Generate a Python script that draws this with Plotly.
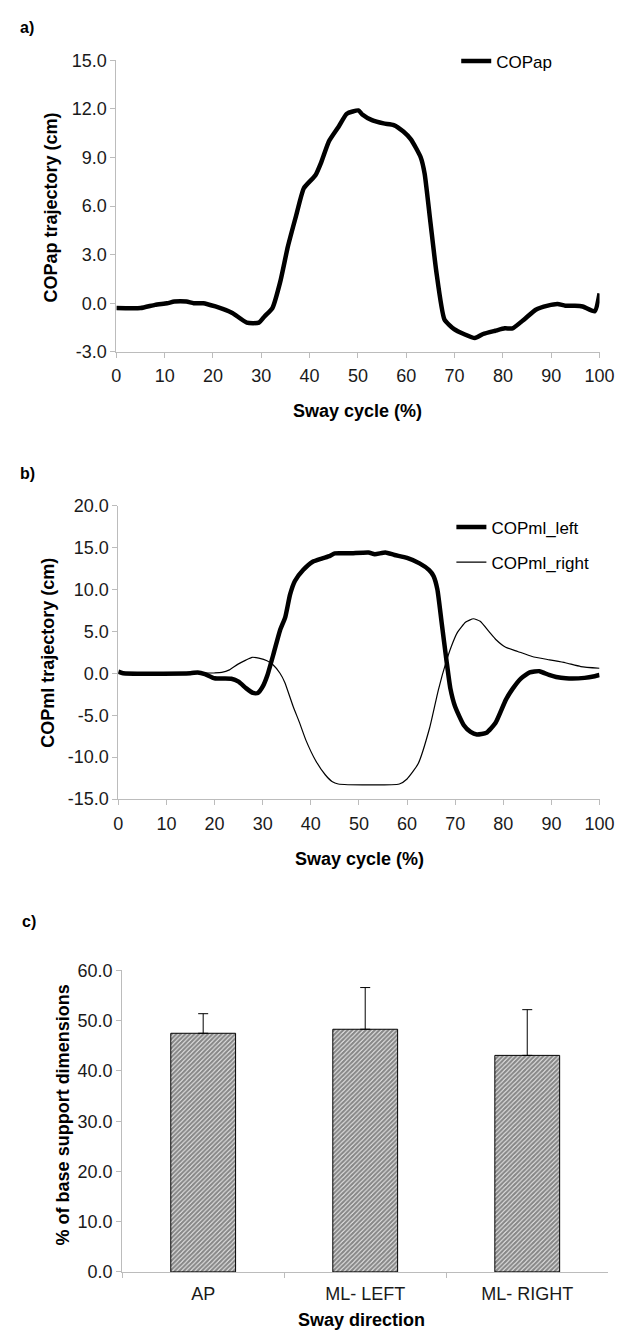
import plotly.graph_objects as go

W, H = 631, 1343

# ---------------- data ----------------
sway_ticks = [0, 10, 20, 30, 40, 50, 60, 70, 80, 90, 100]

ap_x = [0, 5, 8, 10.5, 12, 14.5, 16, 18, 20.5, 22, 24, 27, 29.5, 30.7, 32.3, 33.9, 35.5, 37.2, 38.8, 41.2,
        42.4, 44, 46, 47.7, 50.1, 50.9, 52.9, 55.3, 57.4, 59.4, 61, 63, 63.8, 65, 66.2, 67.9,
        69.9, 71.9, 74.2, 75.9, 78.4, 80.4, 82, 84.4, 86.8, 89.3, 91.3, 92.9, 94.9, 96.5, 99, 100]
ap_y = [-0.3, -0.3, -0.1, 0.0, 0.1, 0.1, 0.0, 0.0, -0.2, -0.35, -0.6, -1.2, -1.2, -0.8, -0.3, 1.3, 3.5,
        5.4, 7.1, 7.9, 8.7, 10.0, 10.9, 11.7, 11.9, 11.65, 11.3, 11.1, 11.0, 10.6, 10.1, 9.0, 8.0, 5.0,
        2.0, -1.0, -1.6, -1.9, -2.15, -1.9, -1.7, -1.55, -1.55, -1.0, -0.4, -0.15, -0.05, -0.15, -0.15,
        -0.2, -0.5, 0.6]

ml_left_x = [0, 1, 15, 16.5, 18, 20, 23.5, 25, 26.6, 28, 29, 30, 31, 32.3, 33.6, 34.7, 35.7, 36.7, 38.4,
             40.4, 42.4, 44, 45, 48, 52, 53.3, 55.5, 57.4, 60, 62.6, 64.6, 65.5, 66.3, 67.2, 68.2, 69,
             70, 71.8, 73.2, 74.5, 76.5, 78.4, 80.5, 82, 83.7, 85.5, 87.5, 89.5, 91, 93, 96.9, 99, 100]
ml_left_y = [0.2, 0.0, 0.0, 0.1, -0.1, -0.6, -0.65, -1.0, -1.8, -2.35, -2.35, -1.6, -0.2, 2.4, 5.1, 6.7,
             9.4, 11.0, 12.3, 13.3, 13.7, 14.0, 14.3, 14.3, 14.4, 14.2, 14.4, 14.1, 13.75, 13.1, 12.3,
             11.6, 10.0, 6.0, 1.5, -1.8, -4.0, -6.2, -7.0, -7.3, -7.1, -5.9, -3.2, -1.8, -0.6, 0.1, 0.25,
             -0.2, -0.45, -0.6, -0.55, -0.35, -0.2]

ml_right_x = [0, 20, 21.5, 23.1, 24.8, 26.5, 27.8, 29.2, 30.9, 32.2, 33.6, 34.6, 36.3, 37.6, 39, 41, 43,
              44.4, 45.7, 58.4, 60, 62.3, 64.7, 66.5, 68.2, 69.2, 70.5, 72.2, 73.8, 75.2, 77, 78.5, 80.5,
              83, 86, 89.6, 92.9, 96.1, 100]
ml_right_y = [0, 0.05, 0.1, 0.4, 1.06, 1.57, 1.9, 1.8, 1.5, 0.98, 0.0, -1.1, -3.9, -5.8, -8.0, -10.4,
              -12.1, -12.9, -13.2, -13.2, -12.6, -10.8, -6.5, -2.0, 1.5, 3.2, 4.9, 6.1, 6.5, 6.2, 5.0,
              4.0, 3.1, 2.6, 2.0, 1.6, 1.25, 0.8, 0.6]

a_yticks = [-3, 0, 3, 6, 9, 12, 15]
a_ylabels = ["-3.0", "0.0", "3.0", "6.0", "9.0", "12.0", "15.0"]
b_yticks = [-15, -10, -5, 0, 5, 10, 15, 20]
b_ylabels = ["-15.0", "-10.0", "-5.0", "0.0", "5.0", "10.0", "15.0", "20.0"]
c_yticks = [0, 10, 20, 30, 40, 50, 60]
c_ylabels = ["0.0", "10.0", "20.0", "30.0", "40.0", "50.0", "60.0"]

directions = ["AP", "ML- LEFT", "ML- RIGHT"]
pct_mean = [47.5, 48.3, 43.1]
pct_sd = [3.9, 8.3, 9.1]

# ---------------- helpers ----------------
def fx(px):
    return px / W

def fy(py):
    return 1 - py / H

FONT = "Arial, 'Liberation Sans', sans-serif"
AXC = "#bcbcbc"
TICKF = dict(family=FONT, size=18, color="#1a1a1a")

fig = go.Figure()

fig.add_trace(go.Scatter(x=ap_x, y=ap_y, mode="lines", name="COPap",
                         line=dict(color="black", width=4.5, shape="spline", smoothing=0.5),
                         xaxis="x", yaxis="y", legend="legend"))
fig.add_trace(go.Scatter(x=ml_left_x, y=ml_left_y, mode="lines", name="COPml_left",
                         line=dict(color="black", width=4.5, shape="spline", smoothing=0.5),
                         xaxis="x2", yaxis="y2", legend="legend2", legendgroup="l"))
fig.add_trace(go.Scatter(x=ml_right_x, y=ml_right_y, mode="lines", name="COPml_right",
                         line=dict(color="black", width=1.2, shape="spline", smoothing=0.5),
                         xaxis="x2", yaxis="y2", legend="legend2", legendgroup="r"))
fig.add_trace(go.Bar(x=directions, y=pct_mean, width=0.4, showlegend=False,
                     marker=dict(color="white", line=dict(color="black", width=1),
                                 pattern=dict(shape="/", fgcolor="#111111", bgcolor="white",
                                              size=3.2, solidity=0.75, fillmode="overlay")),
                     error_y=dict(type="data", array=pct_sd, arrayminus=[0, 0, 0], symmetric=False,
                                  color="black", thickness=1, width=5),
                     xaxis="x3", yaxis="y3"))

common_x = dict(showgrid=False, zeroline=False, showline=True, linecolor=AXC, linewidth=1,
                ticks="outside", ticklen=5, tickcolor=AXC, tickfont=TICKF)
common_y = dict(showgrid=False, zeroline=False, showline=True, linecolor=AXC, linewidth=1,
                ticks="outside", ticklen=5, tickcolor=AXC, tickfont=TICKF)

fig.update_layout(
    width=W, height=H, margin=dict(l=0, r=0, t=0, b=0),
    paper_bgcolor="white", plot_bgcolor="white",
    font=dict(family=FONT, color="black"),
    xaxis=dict(common_x, domain=[fx(115), fx(614)], range=[0, 100], tickvals=sway_ticks,
               anchor="y", ticklabelstandoff=3),
    yaxis=dict(common_y, domain=[fy(347), fy(51)], range=[-3, 15], tickvals=a_yticks,
               ticktext=a_ylabels, anchor="x"),
    xaxis2=dict(common_x, domain=[fx(117), fx(614)], range=[0, 100], tickvals=sway_ticks,
                anchor="y2", ticklabelstandoff=3),
    yaxis2=dict(common_y, domain=[fy(801), fy(503)], range=[-15, 20], tickvals=b_yticks,
                ticktext=b_ylabels, anchor="x2"),
    xaxis3=dict(common_x, domain=[fx(121), fx(623)], tickson="boundaries", anchor="y3",
                ticklabelstandoff=5),
    yaxis3=dict(common_y, domain=[fy(1281), fy(975)], range=[0, 60], tickvals=c_yticks,
                ticktext=c_ylabels, anchor="x3"),
    legend=dict(x=fx(466), y=fy(34), xanchor="left", yanchor="top", bgcolor="rgba(0,0,0,0)",
                font=dict(family=FONT, size=17, color="black"), borderwidth=0),
    legend2=dict(x=fx(461), y=fy(507), xanchor="left", yanchor="top", bgcolor="rgba(0,0,0,0)",
                 font=dict(family=FONT, size=17, color="black"), borderwidth=0, tracegroupgap=10),
)

ann = []
def label(text, x, y, size=18, angle=0, bold=True, xanchor="center"):
    ann.append(dict(text=f"<b>{text}</b>" if bold else text, x=fx(x), y=fy(y), xref="paper",
                    yref="paper", showarrow=False, textangle=angle, xanchor=xanchor,
                    yanchor="middle", font=dict(family=FONT, size=size, color="black")))

label("a)", 13, 18, size=16, xanchor="left")
label("b)", 13, 470, size=16, xanchor="left")
label("c)", 15, 925, size=16, xanchor="left")
label("COPap trajectory (cm)", 47, 201, angle=-90)
label("COPml trajectory (cm)", 45, 653, angle=-90)
label("% of base support dimensions", 60, 1122, angle=-90)
label("Sway cycle (%)", 364, 407)
label("Sway cycle (%)", 366, 862)
label("Sway direction", 368, 1330)
fig.update_layout(annotations=ann)

fig.write_html("out.html")
